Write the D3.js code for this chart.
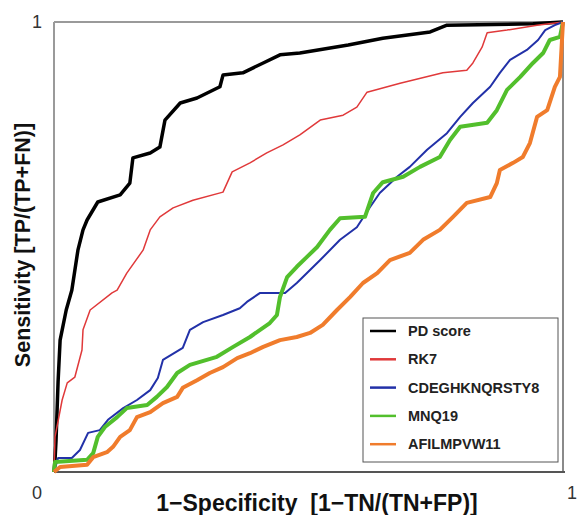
<!DOCTYPE html>
<html>
<head>
<meta charset="utf-8">
<script src="https://cdn.jsdelivr.net/npm/d3@7"></script>
<style>
  body { margin: 0; background: #fff; }
  svg { display: block; font-family: "Liberation Sans", Arial, sans-serif; }
</style>
</head>
<body>
<svg id="chart" width="577" height="515"></svg>
<script>
// Data: ROC curves, [1-specificity, sensitivity]
const seriesNames = ["PD score", "RK7", "CDEGHKNQRSTY8", "MNQ19", "AFILMPVW11"];

const pdScore = [[0,0],[0.002,0.027],[0.004,0.071],[0.008,0.2],[0.012,0.293],[0.024,0.36],[0.035,0.404],
  [0.047,0.493],[0.057,0.538],[0.065,0.56],[0.086,0.6],[0.13,0.616],[0.149,0.642],[0.155,0.698],
  [0.189,0.709],[0.208,0.722],[0.218,0.782],[0.248,0.82],[0.281,0.831],[0.326,0.856],[0.332,0.882],
  [0.371,0.887],[0.411,0.909],[0.444,0.927],[0.483,0.931],[0.578,0.949],[0.646,0.964],[0.739,0.978],
  [0.772,0.993],[0.941,0.996],[1,1]];

const rk7 = [[0,0],[0.002,0.078],[0.016,0.16],[0.026,0.198],[0.041,0.211],[0.055,0.271],[0.057,0.316],
  [0.071,0.36],[0.114,0.398],[0.124,0.404],[0.143,0.442],[0.175,0.493],[0.189,0.538],[0.208,0.567],
  [0.234,0.587],[0.273,0.604],[0.332,0.622],[0.35,0.667],[0.385,0.687],[0.418,0.709],[0.45,0.727],
  [0.483,0.749],[0.523,0.782],[0.568,0.793],[0.595,0.811],[0.615,0.844],[0.68,0.864],[0.764,0.887],
  [0.811,0.893],[0.823,0.909],[0.841,0.944],[0.851,0.976],[0.89,0.982],[0.949,0.993],[1,1]];

const cdeghknqrsty8 = [[0,0],[0.008,0.031],[0.035,0.031],[0.051,0.049],[0.067,0.087],[0.09,0.093],
  [0.106,0.116],[0.136,0.142],[0.163,0.16],[0.189,0.182],[0.204,0.209],[0.214,0.249],[0.253,0.276],
  [0.267,0.316],[0.293,0.333],[0.332,0.349],[0.365,0.364],[0.379,0.378],[0.405,0.398],[0.454,0.398],
  [0.477,0.42],[0.523,0.471],[0.562,0.516],[0.595,0.544],[0.621,0.589],[0.64,0.62],[0.674,0.656],
  [0.699,0.678],[0.733,0.716],[0.772,0.753],[0.798,0.789],[0.823,0.82],[0.857,0.856],[0.876,0.887],
  [0.896,0.916],[0.929,0.938],[0.951,0.96],[0.965,0.982],[0.984,0.993],[1,1]];

const mnq19 = [[0,0],[0.002,0.022],[0.065,0.027],[0.077,0.042],[0.086,0.078],[0.1,0.1],[0.124,0.122],
  [0.143,0.142],[0.183,0.149],[0.202,0.167],[0.222,0.189],[0.242,0.22],[0.267,0.238],[0.32,0.256],
  [0.352,0.278],[0.385,0.3],[0.424,0.331],[0.438,0.349],[0.444,0.389],[0.458,0.433],[0.477,0.456],
  [0.497,0.478],[0.517,0.5],[0.542,0.538],[0.562,0.564],[0.611,0.567],[0.627,0.62],[0.646,0.644],
  [0.686,0.656],[0.719,0.678],[0.758,0.7],[0.778,0.738],[0.798,0.767],[0.851,0.776],[0.87,0.804],
  [0.89,0.849],[0.916,0.878],[0.941,0.909],[0.961,0.931],[0.974,0.96],[0.994,0.967],[1,1]];

const afilmpvw11 = [[0,0],[0.012,0.011],[0.065,0.016],[0.077,0.033],[0.104,0.044],[0.116,0.056],
  [0.13,0.078],[0.149,0.093],[0.163,0.122],[0.189,0.133],[0.214,0.153],[0.242,0.167],[0.253,0.187],
  [0.281,0.204],[0.306,0.22],[0.332,0.233],[0.36,0.253],[0.385,0.264],[0.411,0.278],[0.444,0.293],
  [0.477,0.3],[0.503,0.309],[0.528,0.327],[0.556,0.36],[0.582,0.389],[0.607,0.42],[0.635,0.442],
  [0.66,0.471],[0.699,0.487],[0.725,0.516],[0.758,0.538],[0.784,0.567],[0.811,0.598],[0.857,0.611],
  [0.87,0.642],[0.876,0.671],[0.902,0.687],[0.921,0.7],[0.935,0.731],[0.949,0.789],[0.969,0.804],
  [0.984,0.856],[0.994,0.878],[0.998,0.96],[1,1]];

const tickLabels = ["0", "1"];

// Styles
const colors = ["#000000", "#e0393a", "#2231a8", "#52bf2c", "#f07c2c"];
const widths = [3.5, 1.5, 2, 4, 4];

var margin = { top: 22, right: 14, bottom: 43, left: 54 },
    width = 577, height = 515;

var x = d3.scaleLinear().domain([0, 1]).range([margin.left, width - margin.right]);
var y = d3.scaleLinear().domain([0, 1]).range([height - margin.bottom, margin.top]);

var svg = d3.select("#chart");

// Frame
svg.append("line").attr("x1", x(0)).attr("x2", x(1)).attr("y1", y(1)).attr("y2", y(1))
    .attr("stroke", "#9a9a9a").attr("stroke-width", 2);
svg.append("line").attr("x1", x(0)).attr("x2", x(0)).attr("y1", y(1)).attr("y2", y(0))
    .attr("stroke", "#9a9a9a").attr("stroke-width", 2);
svg.append("line").attr("x1", x(1)).attr("x2", x(1)).attr("y1", y(1)).attr("y2", y(0))
    .attr("stroke", "#8a8a8a").attr("stroke-width", 2);
svg.append("line").attr("x1", x(0)).attr("x2", x(1) + 2).attr("y1", y(0)).attr("y2", y(0))
    .attr("stroke", "#555").attr("stroke-width", 2);

// Curves
var line = d3.line().x(d => x(d[0])).y(d => y(d[1])).curve(d3.curveLinear);
var allSeries = [pdScore, rk7, cdeghknqrsty8, mnq19, afilmpvw11];

svg.append("g").selectAll("path")
    .data(allSeries)
    .join("path")
    .attr("d", line)
    .attr("fill", "none")
    .attr("stroke", (d, i) => colors[i])
    .attr("stroke-width", (d, i) => widths[i])
    .attr("stroke-linejoin", "round");

// Tick labels
svg.append("text").attr("x", x(0) - 17).attr("y", y(0) + 27)
    .attr("text-anchor", "middle").attr("font-size", 18).attr("fill", "#333").text(tickLabels[0]);
svg.append("text").attr("x", x(0) - 17).attr("y", y(1) + 6)
    .attr("text-anchor", "middle").attr("font-size", 18).attr("fill", "#333").text(tickLabels[1]);
svg.append("text").attr("x", x(1) + 9).attr("y", y(0) + 27)
    .attr("text-anchor", "middle").attr("font-size", 18).attr("fill", "#333").text(tickLabels[1]);

// Axis titles
svg.append("text")
    .attr("x", 317).attr("y", 511)
    .attr("text-anchor", "middle")
    .attr("font-size", 23).attr("font-weight", "bold").attr("fill", "#111")
    .text("1\u2212Specificity\u00a0\u00a0[1\u2212TN/(TN+FP)]");

svg.append("text")
    .attr("transform", "translate(30,245) rotate(-90)")
    .attr("text-anchor", "middle")
    .attr("font-size", 21.5).attr("font-weight", "bold").attr("fill", "#111")
    .text("Sensitivity [TP/(TP+FN)]");

// Legend
var legend = svg.append("g");
legend.append("rect")
    .attr("x", 363).attr("y", 318).attr("width", 195).attr("height", 144)
    .attr("fill", "#fff").attr("stroke", "#555").attr("stroke-width", 1);

var items = legend.selectAll("g.item").data(seriesNames).join("g").attr("class", "item")
    .attr("transform", (d, i) => `translate(0,${331 + i * 28.3})`);
items.append("line").attr("x1", 370).attr("x2", 396).attr("y1", 0).attr("y2", 0)
    .attr("stroke", (d, i) => colors[i]).attr("stroke-width", 2.5);
items.append("text").attr("x", 408).attr("y", 5)
    .attr("font-size", 14.5).attr("font-weight", "bold").attr("fill", "#222")
    .text(d => d);
</script>
</body>
</html>
